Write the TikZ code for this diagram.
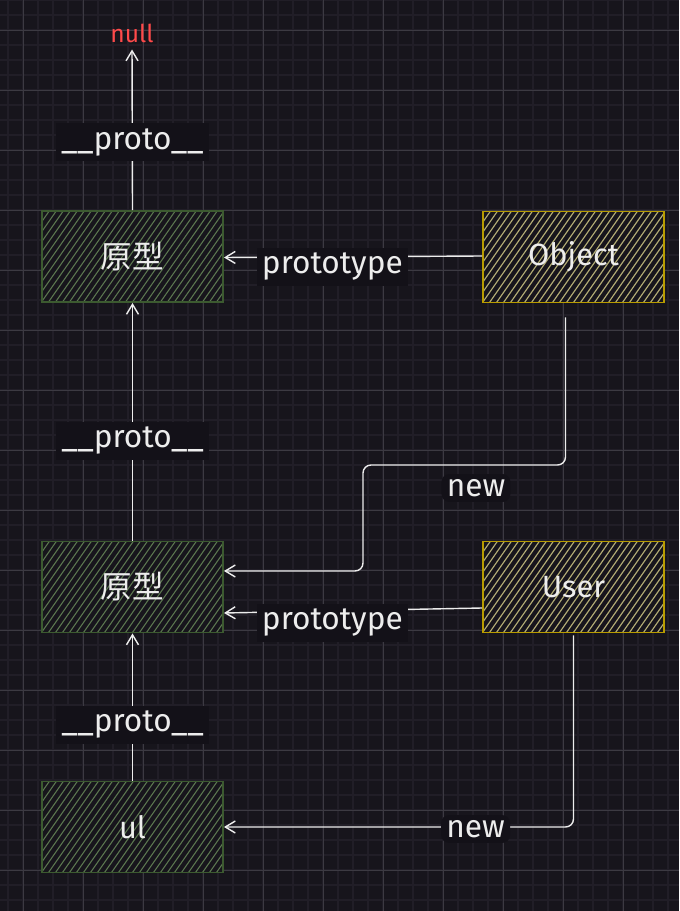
\documentclass[tikz,border=0pt]{standalone}
\usepackage{fontspec}
\setmainfont{Fira Sans}
\newfontfamily\cjkfont{Noto Sans CJK SC}
\usepackage{xcolor}
\usetikzlibrary{arrows.meta, positioning}

\definecolor{canvasbg}{HTML}{17151C}
\definecolor{labelbg}{HTML}{131118}
\definecolor{gridfaint}{HTML}{211E27}
\definecolor{gridbold}{HTML}{3C3A42}
\definecolor{protoedge}{HTML}{3C5A30}
\definecolor{protohatch}{HTML}{5C7850}
\definecolor{ctoredge}{HTML}{B89C00}
\definecolor{ctorhatch}{HTML}{B4AE76}
\definecolor{inkwhite}{HTML}{EDEDED}
\definecolor{nullred}{HTML}{FF4A4A}

\begin{document}
\begin{tikzpicture}[
  x=0.02cm, y=-0.02cm,
  protobox/.style={draw=protoedge, line width=1.1pt, fill=canvasbg,
              minimum width=3.62cm, minimum height=1.82cm, inner sep=0pt,
              text=inkwhite, font=\fontsize{17.5}{19}\selectfont,
              path picture={\foreach \k in {-24,...,14}
                \draw[protohatch, line width=0.6pt]
                  ([xshift=\k*0.14cm]path picture bounding box.south) -- ++(55:4cm);}},
  ctorbox/.style={draw=ctoredge, line width=1.1pt, fill=canvasbg,
              minimum width=3.62cm, minimum height=1.82cm, inner sep=0pt,
              text=inkwhite, font=\fontsize{17.5}{19}\selectfont,
              path picture={\foreach \k in {-24,...,14}
                \draw[ctorhatch, line width=0.65pt]
                  ([xshift=\k*0.14cm]path picture bounding box.south) -- ++(55:4cm);}},
  arrow/.style={-{Straight Barb[length=0.2cm, width=0.24cm]}, draw=inkwhite, line width=0.8pt},
  lbl/.style={fill=labelbg, text=inkwhite, inner sep=3pt,
              font=\fontsize{18}{20}\selectfont}
]
\useasboundingbox (0,0) rectangle (679,911);
\fill[canvasbg] (0,0) rectangle (679,911);

% grid
\foreach \gx in {0,...,45} \draw[gridfaint, line width=1pt] (8+\gx*15,0) -- (8+\gx*15,911);
\foreach \gy in {0,...,60} \draw[gridfaint, line width=1pt] (0,\gy*15) -- (679,\gy*15);
\foreach \gx in {0,...,10} \draw[gridbold, line width=0.5pt] (23+\gx*60,0) -- (23+\gx*60,911);
\foreach \gy in {0,...,14} \draw[gridbold, line width=0.5pt] (0,30+\gy*60) -- (679,30+\gy*60);

\node[text=nullred, inner sep=1pt, font=\fontsize{14}{16}\selectfont] (null) at (132,33) {null};
\node[protobox] (proto1) at (132.5,256.5) {\cjkfont\fontsize{18}{20}\selectfont 原型};
\node[ctorbox]  (obj)    at (573.5,257)   {Object};
\node[protobox] (proto2) at (132.5,587)   {\cjkfont\fontsize{18}{20}\selectfont 原型};
\node[ctorbox]  (user)   at (573.5,587)   {User};
\node[protobox] (ul)     at (132.5,827)   {ul};

\draw[arrow, shorten >=0.1cm] (proto1.north) -- node[lbl, pos=0.41]{\_\_proto\_\_} (null.south);
\draw[arrow] (proto2.north) -- node[lbl, pos=0.42]{\_\_proto\_\_} (proto1.south);
\draw[arrow] (ul.north)     -- node[lbl, pos=0.38]{\_\_proto\_\_} (proto2.south);

\draw[arrow] ([yshift=0.02cm]obj.west) -- node[lbl, pos=0.58, yshift=-0.2cm]{prototype} ([yshift=-0.02cm]proto1.east);
\draw[arrow] ([yshift=-0.42cm]user.west) -- node[lbl, pos=0.58, yshift=-0.24cm]{prototype} ([yshift=-0.52cm]proto2.east);

\coordinate (elbow) at (363,465);
\draw[arrow, rounded corners=0.16cm] ([shift={(-8,14)}]obj.south) |- (elbow)
  |- node[lbl, pos=0.0, xshift=2.26cm, yshift=-0.46cm]{new} ([shift={(0,-16)}]proto2.east);
\draw[arrow, rounded corners=0.16cm] ([yshift=-0.04cm]user.south) |- node[lbl, pos=0.64, yshift=-0.04cm]{new} (ul.east);
\end{tikzpicture}
\end{document}
